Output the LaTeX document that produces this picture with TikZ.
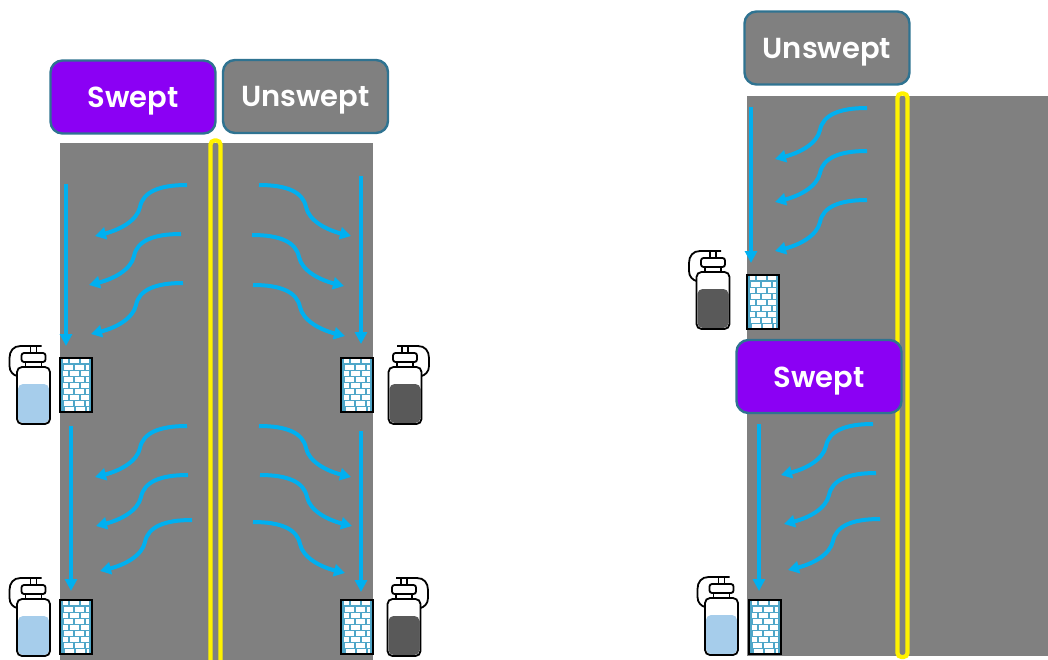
\documentclass[tikz,border=0pt]{standalone}
\usepackage{fontspec}
\setmainfont{Poppins}
\newfontfamily\tagfont{Poppins SemiBold}
\usetikzlibrary{arrows.meta}
\definecolor{panelgray}{HTML}{808080}
\definecolor{flowblue}{HTML}{00B0F0}
\definecolor{sweptpurple}{HTML}{8B00F4}
\definecolor{tagedge}{HTML}{2F7391}
\definecolor{lightfill}{HTML}{A6CDEB}
\definecolor{darkfill}{HTML}{595959}
\definecolor{mortar}{HTML}{4FA6C8}
\tikzset{
  x=1pt,y=-1pt,
  tag/.style={draw=tagedge,line width=2.4pt,rounded corners=12pt,minimum width=165pt,minimum height=73pt,inner sep=0pt,text=white,font=\fontsize{29}{29}\tagfont},
  panel/.style={fill=panelgray,draw=none},
  yellowbar/.style={draw=yellow,line width=4.2pt,rounded corners=4pt},
  flow/.style={draw=flowblue,line width=4pt,-{Triangle[length=11pt,width=12pt]}},
  flowdown/.style={draw=flowblue,line width=4.3pt,-{Triangle[length=12pt,width=12pt]}},
  pics/swoosh/.style n args={1}{code={
    \draw[flow] (0,0) .. controls (-28,0) and (-44,7) .. (-47,22) .. controls (-50,36) and (-68,45) .. (#1,51);
  }},
  pics/wall/.style={code={
    \fill[white] (0,0) rectangle (32,54);
    \begin{scope}
      \clip (0,0) rectangle (32,54);
      \foreach \r in {1,...,8}{
        \pgfmathsetmacro\yy{\r*6.1}
        \draw[mortar,line width=1.3pt] (0,\yy) -- (32,\yy);
        \pgfmathsetmacro\off{mod(\r,2)==0 ? 3 : 9}
        \foreach \k in {0,1,2}{
          \draw[mortar,line width=1.3pt] (\off+\k*11,\yy-6.1) -- (\off+\k*11,\yy);
        }
      }
      \draw[mortar,line width=1.3pt] (4,48.8) -- (4,54) (15,48.8) -- (15,54) (26,48.8) -- (26,54);
      \draw[mortar,line width=1.4pt] (2,0) -- (2,54) (30,0) -- (30,54);
    \end{scope}
    \draw[black,line width=2.6pt] (0,0) rectangle (32,54);
  }},
  pics/bottle/.style={code={
    \fill[#1,rounded corners=5pt] (-15.5,-40) -- (15.5,-40) -- (15.5,-1) -- (-15.5,-1) -- cycle;
    \draw[black,line width=1.8pt,rounded corners=5pt] (-16.5,-57) rectangle (16.5,0);
    \draw[black,line width=1.8pt,fill=white,rounded corners=2.5pt] (-12,-71) rectangle (12,-62);
    \draw[black,line width=1.8pt] (-8,-62) -- (-8,-57) (8,-62) -- (8,-57);
    \draw[black,line width=1.8pt] (-3,-71) -- (-3,-77) (3,-71) -- (3,-77);
    \draw[black,line width=1.8pt] (8,-78) -- (-13,-78) .. controls (-20,-78) and (-24,-73) .. (-24,-66) -- (-24,-58) .. controls (-24,-52) and (-20,-49) .. (-16.5,-48);
  }}
}
\newcommand{\swl}[2]{\pic at (#1,#2) {swoosh={-92}};}
\newcommand{\swr}[2]{\pic[xscale=-1] at (#1,#2) {swoosh={-92}};}
\begin{document}
\begin{tikzpicture}
\useasboundingbox (0,0) rectangle (1048,660);
% panels
\fill[panel] (60,143) rectangle (373,660);
\fill[panel] (747,96) rectangle (1048,656);
% yellow bars
\draw[yellowbar] (210.5,666) -- (210.5,140.5) -- (220.5,140.5) -- (220.5,666);
\draw[yellowbar] (897.5,657) -- (897.5,93.5) -- (907.5,93.5) -- (907.5,657) -- cycle;
% tags
\node[tag,fill=sweptpurple,text depth=0pt,text height=21pt] (sweptA) at (133,97) {Swept};
\node[tag,fill=panelgray,text depth=0pt,text height=21pt] (unsweptA) at (305.5,96.5) {Unswept};
\node[tag,fill=panelgray,text depth=0pt,text height=21pt] (unsweptB) at (827,48) {Unswept};
\node[tag,fill=sweptpurple,text depth=0pt,text height=21pt] (sweptB) at (819,376.5) {Swept};
% vertical flows
\draw[flowdown] (66,184) -- (66,346);
\draw[flowdown] (71,426) -- (71,591);
\draw[flowdown] (361,176) -- (361,344);
\draw[flowdown] (361,431) -- (361,592);
\draw[flowdown] (751,107) -- (751,263);
\draw[flowdown] (759,424) -- (759,591);
% swooshes
\swl{187}{185}\swl{181}{234}\swl{183}{283}
\swl{187}{426}\swl{188}{475}\swl{192}{520}
\swr{259}{185}\swr{252}{235}\swr{253}{285}
\swr{259}{426}\swr{260}{475}\swr{253}{522}
\swl{867}{108}\swl{867}{151}\swl{867}{200}
\swl{873}{424}\swl{876}{473}\swl{880}{519}
% walls
\pic at (60,358) {wall};
\pic at (60,600) {wall};
\pic at (341,358) {wall};
\pic at (341,600) {wall};
\pic at (747,275) {wall};
\pic at (749,600) {wall};
% bottles
\pic at (33.5,424) {bottle=lightfill};
\pic at (33.5,656) {bottle=lightfill};
\pic at (713,329) {bottle=darkfill};
\pic at (721.5,655) {bottle=lightfill};
\pic[xscale=-1] at (405,424) {bottle=darkfill};
\pic[xscale=-1] at (404,656) {bottle=darkfill};
\end{tikzpicture}
\end{document}
